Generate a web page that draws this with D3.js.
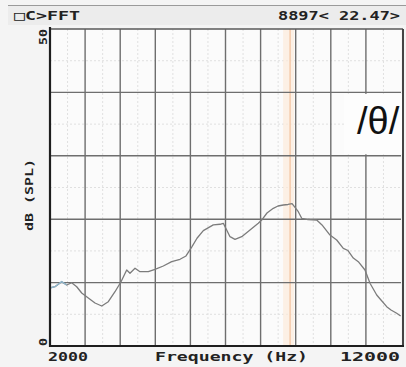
<!DOCTYPE html>
<html>
<head>
<meta charset="utf-8">
<script src="https://cdn.jsdelivr.net/npm/d3@7"></script>
<style>
  html, body { margin: 0; padding: 0; background: #f3f3f3; }
  svg { display: block; }
</style>
</head>
<body>
<svg id="chart" width="406" height="367"></svg>
<script>
// FFT spectrum readout: frequency (Hz) vs level (dB SPL)
const freqHz = [2000, 2142, 2333, 2476, 2618, 2761, 2903, 3091, 3282, 3473, 3661, 3852, 4023, 4185, 4279, 4422,
  4564, 4801, 4991, 5228, 5467, 5704, 5875, 6037, 6188, 6368, 6652, 6843, 6937, 7034, 7128, 7271, 7462, 7698,
  7934, 8031, 8182, 8362, 8496, 8647, 8781, 8897, 9074, 9171, 9350, 9598, 9749, 9977, 10168, 10356, 10490,
  10641, 10783, 10974, 11117, 11308, 11430, 11593, 11715, 11877, 11990];
const levelDb = [9.15, 9.35, 10.14, 9.62, 9.98, 9.35, 8.36, 7.57, 6.78, 6.31, 6.99, 8.56, 10.14, 11.99, 11.47, 12.26,
  11.72, 11.72, 12.10, 12.62, 13.30, 13.68, 14.2, 15.6, 17.0, 18.2, 19.1, 19.2, 19.35, 18.3, 17.24, 16.83, 17.24, 18.30,
  19.35, 19.87, 20.98, 21.72, 22.08, 22.24, 22.32, 22.47, 21.18, 20.14, 19.95, 19.87, 19.1, 17.5, 16.72, 15.41, 15.06,
  13.88, 13.30, 11.99, 9.89, 8.04, 7.26, 6.20, 5.68, 5.16, 4.73];
const xDomain = [2000, 12000];
const yDomain = [0, 50];
const xTicks = [2000, 3000, 4000, 5000, 6000, 7000, 8000, 9000, 10000, 11000, 12000];
const yTicks = [0, 10, 20, 30, 40, 50];
const cursorHz = 8897;
const cursorDb = 22.47;
const headerLeft = "\u25A1C>FFT";
const xAxisTitle = "Frequency (Hz)";
const yAxisTitle = "dB (SPL)";
const vowelLabel = "/\u03B8/";

const svg = d3.select("#chart");
const pLeft = 50, pRight = 401, pTop = 29, pBottom = 346;
const x = d3.scaleLinear().domain(xDomain).range([pLeft, pRight]);
const y = d3.scaleLinear().domain(yDomain).range([pBottom, pTop]);
const mono = "'DejaVu Sans Mono', monospace";

// header bar
svg.append("rect").attr("x", 0).attr("y", 0).attr("width", 406).attr("height", 367).attr("fill", "#f4f4f4");
svg.append("rect").attr("x", 8).attr("y", 5).attr("width", 398).attr("height", 20).attr("fill", "#ececec");
svg.append("line").attr("x1", 8).attr("x2", 406).attr("y1", 5.5).attr("y2", 5.5)
  .attr("stroke", "#9a9a9a").attr("stroke-width", 1);

svg.append("text").attr("x", 14).attr("y", 20).text(headerLeft)
  .attr("font-family", mono).attr("font-weight", "bold").attr("font-size", 13)
  .attr("textLength", 66).attr("lengthAdjust", "spacingAndGlyphs").attr("fill", "#222");
svg.append("text").attr("x", 278).attr("y", 20)
  .text(`${cursorHz}< ${cursorDb.toFixed(2)}>`)
  .attr("font-family", mono).attr("font-weight", "bold").attr("font-size", 13)
  .attr("textLength", 122).attr("lengthAdjust", "spacingAndGlyphs").attr("fill", "#222");

// plot background
svg.append("rect").attr("x", pLeft).attr("y", pTop).attr("width", pRight - pLeft).attr("height", pBottom - pTop)
  .attr("fill", "#fbfbfb");

// minor dotted grid
const minorX = d3.range(xDomain[0] + 500, xDomain[1], 1000);
const minorY = d3.range(yDomain[0] + 5, yDomain[1], 10);
svg.append("g").selectAll("line").data(minorX).join("line")
  .attr("x1", d => x(d)).attr("x2", d => x(d)).attr("y1", pTop).attr("y2", pBottom)
  .attr("stroke", "#e0e0e0").attr("stroke-width", 1).attr("stroke-dasharray", "2,2");
svg.append("g").selectAll("line").data(minorY).join("line")
  .attr("y1", d => y(d)).attr("y2", d => y(d)).attr("x1", pLeft).attr("x2", pRight)
  .attr("stroke", "#e0e0e0").attr("stroke-width", 1).attr("stroke-dasharray", "2,2");

// cursor band and line
svg.append("rect").attr("x", x(cursorHz) - 9).attr("y", pTop).attr("width", 11).attr("height", pBottom - pTop)
  .attr("fill", "#fcebdc").attr("opacity", 0.7);
svg.append("line").attr("x1", x(cursorHz) - 2).attr("x2", x(cursorHz) - 2).attr("y1", pTop).attr("y2", pBottom)
  .attr("stroke", "#f2c09c").attr("stroke-width", 1.2);

// major grid
svg.append("g").selectAll("line").data(xTicks.slice(1, -1)).join("line")
  .attr("x1", d => x(d)).attr("x2", d => x(d)).attr("y1", pTop).attr("y2", pBottom)
  .attr("stroke", "#6e6e6e").attr("stroke-width", 1.4);
svg.append("g").selectAll("line").data(yTicks.slice(1, -1)).join("line")
  .attr("y1", d => y(d)).attr("y2", d => y(d)).attr("x1", pLeft).attr("x2", pRight)
  .attr("stroke", "#6e6e6e").attr("stroke-width", 1.4);

// frame
svg.append("line").attr("x1", pLeft).attr("x2", pRight + 2).attr("y1", pTop).attr("y2", pTop)
  .attr("stroke", "#5a5a5a").attr("stroke-width", 1.5);
svg.append("line").attr("x1", pRight + 2).attr("x2", pRight + 2).attr("y1", pTop).attr("y2", pBottom)
  .attr("stroke", "#444").attr("stroke-width", 2);

// vowel label
svg.append("rect").attr("x", 344).attr("y", y(40) + 1.5).attr("width", pRight - 344 + 1)
  .attr("height", y(30) - y(40) - 3).attr("fill", "#fdfdfd");
svg.append("text").attr("x", 357).attr("y", 134).text(vowelLabel)
  .attr("font-family", "'Liberation Sans', Arial, sans-serif").attr("font-size", 38).attr("fill", "#111");

// spectrum line
const pts = freqHz.map((f, i) => [f, levelDb[i]]);
const line = d3.line().x(d => x(d[0])).y(d => y(d[1]));
svg.append("path").datum(pts).attr("d", line)
  .attr("fill", "none").attr("stroke", "#7c7c7c").attr("stroke-width", 1.3).attr("stroke-linejoin", "round");
svg.append("path").datum(pts.filter(d => d[0] <= 2500)).attr("d", line)
  .attr("fill", "none").attr("stroke", "#8fb6cc").attr("stroke-width", 1.4);

// axes
svg.append("line").attr("x1", pLeft).attr("x2", pLeft).attr("y1", pTop - 2).attr("y2", pBottom + 1)
  .attr("stroke", "#1e1e1e").attr("stroke-width", 2.2);
svg.append("line").attr("x1", pLeft - 1).attr("x2", pRight + 3).attr("y1", pBottom).attr("y2", pBottom)
  .attr("stroke", "#1e1e1e").attr("stroke-width", 2);

// x labels
const lab = (t, x0, w) => svg.append("text").attr("x", x0).attr("y", 361).text(t)
  .attr("font-family", mono).attr("font-weight", "bold").attr("font-size", 12)
  .attr("textLength", w).attr("lengthAdjust", "spacingAndGlyphs").attr("fill", "#222");
lab(String(xDomain[0]), x(xDomain[0]) - 2, 40);
lab(xAxisTitle, 155, 153);
lab(String(xDomain[1]), x(xDomain[1]) - 61, 60);

// y labels (rotated)
const ylab = (t, cx, cy, w) => svg.append("text")
  .attr("transform", `translate(${cx},${cy}) rotate(-90)`).attr("text-anchor", "middle").text(t)
  .attr("font-family", mono).attr("font-weight", "bold").attr("font-size", 11)
  .attr("textLength", w).attr("lengthAdjust", "spacingAndGlyphs").attr("fill", "#222");
ylab(String(yDomain[1]), 47, y(yDomain[1]) + 8, 16);
ylab(String(yDomain[0]), 47, y(yDomain[0]) - 4, 8);
ylab(yAxisTitle, 33, 195, 72);
</script>
</body>
</html>
